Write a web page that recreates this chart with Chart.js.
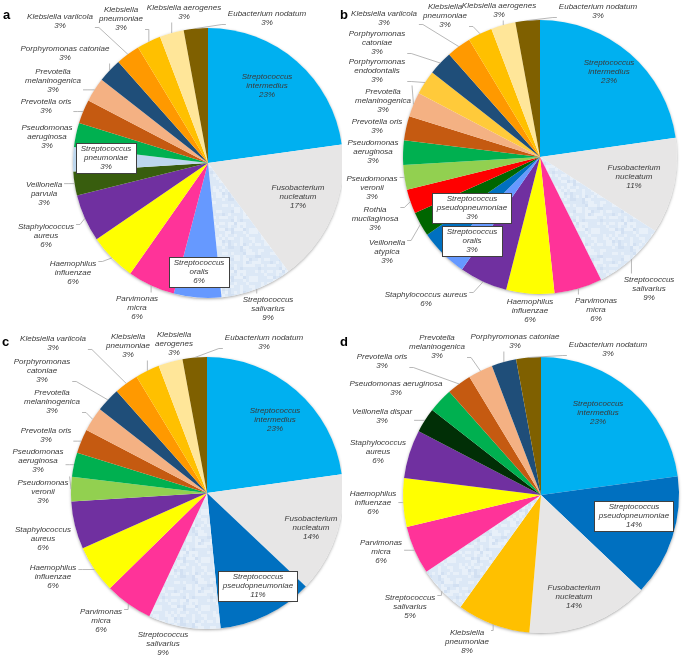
<!DOCTYPE html>
<html>
<head>
<meta charset="utf-8">
<script src="https://cdn.jsdelivr.net/npm/chart.js@4.4.1/dist/chart.umd.min.js"></script>
<style>
html,body{margin:0;padding:0;background:#fff;}
#wrap{position:relative;width:685px;height:658px;overflow:hidden;background:#fff;}
#wrap canvas{position:absolute;}
.letter{position:absolute;font:bold 13px "Liberation Sans",Arial,sans-serif;color:#000;line-height:13px;}
</style>
</head>
<body>
<div id="wrap">
  <canvas id="ca" width="342" height="329" style="left:0;top:0"></canvas>
  <canvas id="cb" width="343" height="329" style="left:342px;top:0"></canvas>
  <canvas id="cc" width="342" height="329" style="left:0;top:329px"></canvas>
  <canvas id="cd" width="343" height="329" style="left:342px;top:329px"></canvas>
  <div class="letter" style="left:3px;top:8px">a</div>
  <div class="letter" style="left:340px;top:8px">b</div>
  <div class="letter" style="left:2px;top:335px">c</div>
  <div class="letter" style="left:340px;top:335px">d</div>
</div>
<script>
// ---------- DATA ----------
const namesA = ['Streptococcus intermedius','Fusobacterium nucleatum','Streptococcus salivarius','Streptococcus oralis','Parvimonas micra','Haemophilus influenzae','Staphylococcus aureus','Veillonella parvula','Streptococcus pneumoniae','Pseudomonas aeruginosa','Prevotella oris','Prevotella melaninogenica','Porphyromonas catoniae','Klebsiella variicola','Klebsiella pneumoniae','Klebsiella aerogenes','Eubacterium nodatum'];
const valuesA = [22.9,17.1,8.6,5.7,5.7,5.7,5.7,2.9,2.9,2.9,2.9,2.9,2.9,2.9,2.9,2.9,2.9];
const pctA = [23,17,9,6,6,6,6,3,3,3,3,3,3,3,3,3,3];

const namesB = ['Streptococcus intermedius','Fusobacterium nucleatum','Streptococcus salivarius','Parvimonas micra','Haemophilus influenzae','Staphylococcus aureus','Streptococcus oralis','Streptococcus pseudopneumoniae','Veillonella atypica','Rothia mucilaginosa','Pseudomonas veronii','Pseudomonas aeruginosa','Prevotella oris','Prevotella melaninogenica','Porphyromonas endodontalis','Porphyromonas catoniae','Klebsiella variicola','Klebsiella pneumoniae','Klebsiella aerogenes','Eubacterium nodatum'];
const valuesB = [22.9,11.4,8.6,5.7,5.7,5.7,2.9,2.9,2.9,2.9,2.9,2.9,2.9,2.9,2.9,2.9,2.9,2.9,2.9,2.9];
const pctB = [23,11,9,6,6,6,3,3,3,3,3,3,3,3,3,3,3,3,3,3];

const namesC = ['Streptococcus intermedius','Fusobacterium nucleatum','Streptococcus pseudopneumoniae','Streptococcus salivarius','Parvimonas micra','Haemophilus influenzae','Staphylococcus aureus','Pseudomonas veronii','Pseudomonas aeruginosa','Prevotella oris','Prevotella melaninogenica','Porphyromonas catoniae','Klebsiella variicola','Klebsiella pneumoniae','Klebsiella aerogenes','Eubacterium nodatum'];
const valuesC = [22.9,14.3,11.4,8.6,5.7,5.7,5.7,2.9,2.9,2.9,2.9,2.9,2.9,2.9,2.9,2.9];
const pctC = [23,14,11,9,6,6,6,3,3,3,3,3,3,3,3,3];

const namesD = ['Streptococcus intermedius','Streptococcus pseudopneumoniae','Fusobacterium nucleatum','Klebsiella pneumoniae','Streptococcus salivarius','Parvimonas micra','Haemophilus influenzae','Staphylococcus aureus','Veillonella dispar','Pseudomonas aeruginosa','Prevotella oris','Prevotella melaninogenica','Porphyromonas catoniae','Eubacterium nodatum'];
const valuesD = [22.9,14.3,14.3,8.6,5.7,5.7,5.7,5.7,2.9,2.9,2.9,2.9,2.9,2.9];
const pctD = [23,14,14,8,5,6,6,6,3,3,3,3,3,3];

// ---------- LAYOUT (label anchor in page px: x centre, y of first line; mode 1=one-line name, 2=two-line, 3=inside, 4=boxed) ----------
const layoutA = [[267,77,3],[298,188,3],[268,300,2],[199,263,4],[137,299,2],[73,264,2],[46,227,2],[44,185,2],[106,149,4],[47,128,2],[46,102,1],[53,72,2],[65,49,1],[60,17,1],[121,10,2],[184,8,1],[267,14,1]];
const layoutB = [[609,63,3],[634,168,3],[649,280,2],[596,301,2],[530,302,2],[426,295,1],[472,232,4],[472,199,4],[387,243,2],[375,210,2],[372,179,2],[373,143,2],[377,122,1],[383,92,2],[377,62,2],[377,34,2],[384,14,1],[445,7,2],[499,6,1],[598,7,1]];
const layoutC = [[275,411,3],[311,519,3],[258,577,4],[163,635,2],[101,612,2],[53,568,2],[43,530,2],[43,483,2],[38,452,2],[46,431,1],[52,393,2],[42,362,2],[53,339,1],[128,337,2],[174,335,2],[264,338,1]];
const layoutD = [[598,404,3],[634,507,4],[574,588,3],[467,633,2],[410,598,2],[381,543,2],[373,494,2],[378,443,2],[382,412,1],[396,384,1],[382,357,1],[437,338,2],[515,337,1],[608,345,1]];

const speciesColors = {
  'Streptococcus intermedius':'#00b0f0',
  'Fusobacterium nucleatum':'#e7e6e6',
  'Streptococcus salivarius':'PATTERN',
  'Streptococcus oralis':'#6699ff',
  'Streptococcus pseudopneumoniae':'#0070c0',
  'Streptococcus pneumoniae':'#bdd7ee',
  'Parvimonas micra':'#ff3399',
  'Haemophilus influenzae':'#ffff00',
  'Staphylococcus aureus':'#7030a0',
  'Veillonella parvula':'#385d0e',
  'Veillonella atypica':'#006600',
  'Veillonella dispar':'#012f06',
  'Rothia mucilaginosa':'#ff0000',
  'Pseudomonas veronii':'#92d050',
  'Pseudomonas aeruginosa':'#00b050',
  'Prevotella oris':'#c55a11',
  'Prevotella melaninogenica':'#f4b183',
  'Porphyromonas endodontalis':'#ffca3a',
  'Porphyromonas catoniae':'#1f4e79',
  'Klebsiella variicola':'#ff9900',
  'Klebsiella pneumoniae':'#ffc000',
  'Klebsiella aerogenes':'#ffe699',
  'Eubacterium nodatum':'#7f6000'
};

const panels = [
  {id:'ca', ox:0,   oy:0,   w:342, h:329, cx:209, cy:163, r:135, names:namesA, values:valuesA, pct:pctA, layout:layoutA},
  {id:'cb', ox:342, oy:0,   w:343, h:329, cx:540, cy:157, r:137, names:namesB, values:valuesB, pct:pctB, layout:layoutB},
  {id:'cc', ox:0,   oy:329, w:342, h:329, cx:208, cy:493, r:136, names:namesC, values:valuesC, pct:pctC, layout:layoutC},
  {id:'cd', ox:342, oy:329, w:343, h:329, cx:541, cy:495, r:138, names:namesD, values:valuesD, pct:pctD, layout:layoutD}
];

const FONT = 'italic 8px "Liberation Sans", Arial, sans-serif';
const LH = 9;
const TEXT_COLOR = '#3a3a3a';

function makeTexture(ctx) {
  const c = document.createElement('canvas');
  c.width = 48; c.height = 48;
  const g = c.getContext('2d');
  g.fillStyle = '#dce8f6';
  g.fillRect(0, 0, 48, 48);
  for (let y = 0; y < 48; y += 3) {
    for (let x = 0; x < 48; x += 3) {
      const h = Math.sin(x * 12.9898 + y * 78.233) * 43758.5453;
      const f = h - Math.floor(h);
      if (f < 0.35) { g.fillStyle = 'rgba(255,255,255,0.35)'; g.fillRect(x, y, 3, 3); }
      else if (f > 0.9) { g.fillStyle = 'rgba(170,195,228,0.2)'; g.fillRect(x, y, 3, 3); }
    }
  }
  return ctx.createPattern(c, 'repeat');
}

function clamp(v, a, b) { return Math.max(a, Math.min(b, v)); }

const labelPlugin = {
  id: 'pieLabels',
  beforeDatasetsDraw(chart) {
    const el = chart.getDatasetMeta(0).data[0];
    const ctx = chart.ctx;
    ctx.save();
    ctx.shadowColor = 'rgba(0,0,0,0.35)';
    ctx.shadowBlur = 3;
    ctx.shadowOffsetY = 1;
    ctx.beginPath();
    ctx.arc(el.x, el.y, el.outerRadius, 0, Math.PI * 2);
    ctx.fillStyle = '#ffffff';
    ctx.fill();
    ctx.restore();
  },
  afterDatasetsDraw(chart) {
    const cfg = chart.options.plugins.pieLabels;
    const ctx = chart.ctx;
    const meta = chart.getDatasetMeta(0);
    ctx.save();
    ctx.font = FONT;
    ctx.textAlign = 'center';
    ctx.textBaseline = 'middle';
    cfg.names.forEach((name, i) => {
      const el = meta.data[i];
      const [px, py, mode] = cfg.layout[i];
      const x = px - cfg.ox, y = py - cfg.oy;
      const sp = name.indexOf(' ');
      const lines = mode === 1 ? [name] : [name.slice(0, sp), name.slice(sp + 1)];
      lines.push(cfg.pct[i] + '%');
      const w = Math.max(...lines.map(l => ctx.measureText(l).width));
      const top = y - LH / 2 - 1, bottom = y + (lines.length - 1) * LH + LH / 2;
      const left = x - w / 2 - 1, right = x + w / 2 + 1;
      if (mode === 1 || mode === 2) {
        const mid = (el.startAngle + el.endAngle) / 2;
        const ax = el.x + el.outerRadius * Math.cos(mid);
        const ay = el.y + el.outerRadius * Math.sin(mid);
        let sx, sy, kx, ky;
        if (ax > right + 2) {
          sx = right + 1; sy = clamp(ay, top + 3, bottom - 3);
          kx = Math.min(sx + 4, ax); ky = sy;
        } else if (ax < left - 2) {
          sx = left - 1; sy = clamp(ay, top + 3, bottom - 3);
          kx = Math.max(sx - 4, ax); ky = sy;
        } else if (ay > bottom) {
          sx = clamp(ax, left, right); sy = bottom + 1; kx = sx; ky = sy;
        } else {
          sx = clamp(ax, left, right); sy = top - 1; kx = sx; ky = sy;
        }
        if (Math.hypot(ax - sx, ay - sy) > 4) {
          ctx.beginPath();
          ctx.moveTo(sx, sy);
          ctx.lineTo(kx, ky);
          ctx.lineTo(ax, ay);
          ctx.strokeStyle = '#a6a6a6';
          ctx.lineWidth = 0.8;
          ctx.stroke();
        }
      }
      if (mode === 4) {
        const bl = Math.round(x - w / 2 - 4.5) + 0.5, bt = Math.round(y - LH / 2 - 2) + 0.5;
        const bw = Math.round(w + 9), bh = Math.round(lines.length * LH + 3);
        ctx.fillStyle = '#ffffff';
        ctx.fillRect(bl, bt, bw, bh);
        ctx.strokeStyle = '#404040';
        ctx.lineWidth = 1;
        ctx.strokeRect(bl, bt, bw, bh);
      }
      ctx.fillStyle = TEXT_COLOR;
      lines.forEach((l, k) => ctx.fillText(l, x, y + k * LH));
    });
    ctx.restore();
  }
};

panels.forEach(p => {
  const canvas = document.getElementById(p.id);
  const ctx = canvas.getContext('2d');
  const tex = makeTexture(ctx);
  const colors = p.names.map(n => speciesColors[n] === 'PATTERN' ? tex : speciesColors[n]);
  const lx = p.cx - p.ox, ly = p.cy - p.oy;
  new Chart(ctx, {
    type: 'pie',
    data: {
      labels: p.names,
      datasets: [{
        data: p.values,
        backgroundColor: colors,
        borderWidth: 0,
        hoverOffset: 0,
        offset: 0,
        radius: p.r
      }]
    },
    options: {
      responsive: false,
      animation: false,
      events: [],
      layout: {
        padding: {
          left: lx - p.r,
          top: ly - p.r,
          right: p.w - (lx + p.r),
          bottom: p.h - (ly + p.r)
        }
      },
      plugins: {
        legend: { display: false },
        tooltip: { enabled: false },
        pieLabels: { names: p.names, pct: p.pct, layout: p.layout, ox: p.ox, oy: p.oy }
      }
    },
    plugins: [labelPlugin]
  });
});
</script>
</body>
</html>
